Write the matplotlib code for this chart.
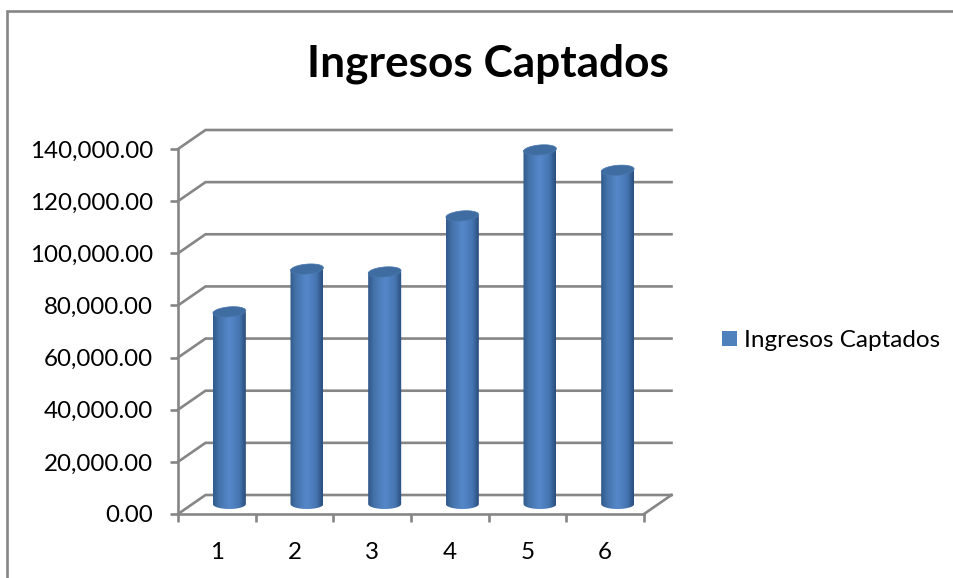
import numpy as np
import matplotlib
matplotlib.use('Agg')
import matplotlib.pyplot as plt
from matplotlib.lines import Line2D
from matplotlib.patches import Patch
from matplotlib.path import Path

plt.rcParams['font.family'] = ['Lato', 'DejaVu Sans']

# data
categories = ['1', '2', '3', '4', '5', '6']
ingresos = [73700, 90100, 89000, 110500, 135800, 128000]
y_ticks = [0, 20000, 40000, 60000, 80000, 100000, 120000, 140000]
y_labels = ['0.00', '20,000.00', '40,000.00', '60,000.00', '80,000.00',
            '100,000.00', '120,000.00', '140,000.00']
series_name = 'Ingresos Captados'

W, H = 954, 578
GRAY = '#868686'
LW = 1.9

fig = plt.figure(figsize=(W / 100, H / 100), dpi=100)
ax = fig.add_axes([178 / W, (H - 514) / H, (644 - 178) / W, (514 - 149) / H])
ax.set_xlim(0.5, 6.5)
ax.set_ylim(0, 140000)

# pixel sizes turned into data units
px_x = 6 / (644 - 178)
px_y = 140000 / (514 - 149)
depth_x = 27.5 * px_x
depth_y = 19 * px_y

# back wall lines with the diagonal going to the front axis
for t in y_ticks:
    ax.plot([0.5, 0.5 + depth_x, 6.5 + depth_x], [t, t + depth_y, t + depth_y],
            color=GRAY, lw=LW, clip_on=False, zorder=1, solid_joinstyle='miter')
ax.plot([6.5, 6.5 + depth_x], [0, depth_y], color=GRAY, lw=LW, clip_on=False, zorder=1)

# cylinders
bar_w = 33 * px_x
off_x = 12.5 * px_x
base = 10 * px_y
ell_h = 10 * px_y
stops = np.array([[0, 50, 90, 138], [0.18, 68, 114, 170], [0.5, 86, 136, 202],
                  [0.8, 70, 118, 178], [1, 42, 78, 124]], dtype=float)
u = np.linspace(0, 1, 64)
grad = np.stack([np.interp(u, stops[:, 0], stops[:, c]) for c in (1, 2, 3)], axis=-1)[None, :, :] / 255

# top ellipse is a little tilted in the picture
tilt = np.deg2rad(5)
t_ell = np.linspace(0, 2 * np.pi, 60)
ell_x = (16.5 * np.cos(t_ell) * np.cos(tilt) - 5 * np.sin(t_ell) * np.sin(tilt)) * px_x
ell_y = (16.5 * np.cos(t_ell) * np.sin(tilt) + 5 * np.sin(t_ell) * np.cos(tilt)) * px_y

for i, v in enumerate(ingresos):
    cx = i + 1 + off_x
    x0, x1 = cx - bar_w / 2, cx + bar_w / 2
    top = v + base
    im = ax.imshow(grad, extent=[x0, x1, base - ell_h / 2, top], aspect='auto',
                   zorder=3, clip_on=True, interpolation='bilinear')
    ang = np.linspace(np.pi, 2 * np.pi, 40)
    arc = np.column_stack([cx + bar_w / 2 * np.cos(ang), base + ell_h / 2 * np.sin(ang)])
    verts = np.vstack([[x0, top], arc, [x1, top], [x0, top]])
    im.set_clip_path(Path(verts), transform=ax.transData)
    ax.fill(cx + ell_x, top + ell_y, facecolor='#3f6da2', edgecolor='#4a78ae',
            lw=0.5, zorder=4, clip_on=False)
ax.set_xlim(0.5, 6.5)
ax.set_ylim(0, 140000)

# axes
for s in ['top', 'right']:
    ax.spines[s].set_visible(False)
for s in ['left', 'bottom']:
    ax.spines[s].set_color(GRAY)
    ax.spines[s].set_linewidth(LW)
    ax.spines[s].set_zorder(2)
ax.patch.set_visible(False)
ax.set_yticks(y_ticks)
ax.set_yticklabels(y_labels, fontsize=17.4, color='black')
ax.tick_params(axis='y', length=5.8, width=LW, color=GRAY, pad=12)
ax.set_xticks(np.arange(1, 7))
ax.set_xticklabels(categories, fontsize=17.4, color='black')
ax.set_xticks(np.arange(0.5, 7), minor=True)
ax.tick_params(axis='x', which='major', length=0, pad=20)
ax.tick_params(axis='x', which='minor', length=5.8, width=LW, color=GRAY)

fig.text(487.5 / W, 1 - 64 / H, series_name, fontsize=31.8, fontweight='bold',
         ha='center', va='center')

fig.legend(handles=[Patch(facecolor='#4f81bd', label=series_name)], frameon=False,
           fontsize=17.5, loc='center left', bbox_to_anchor=(715 / W, 1 - 340.5 / H),
           handlelength=0.62, handleheight=0.62, handletextpad=0.28, borderaxespad=0,
           borderpad=0.3)

# chart frame, cropped on the right and at the bottom
fig.add_artist(Line2D([7.5 / W, 7.5 / W, 1], [0, 1 - 10.5 / H, 1 - 10.5 / H],
                      color=GRAY, lw=LW, solid_joinstyle='miter'))

fig.savefig('out.png', dpi=100)
